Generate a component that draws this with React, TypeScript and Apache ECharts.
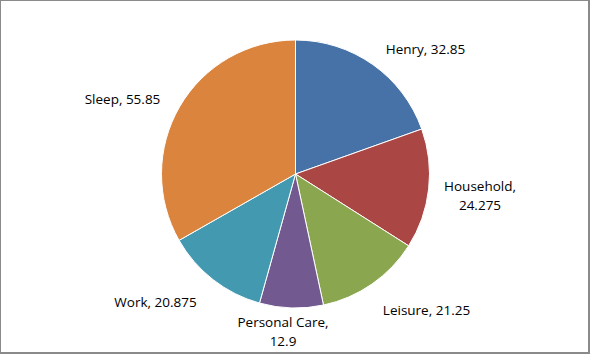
import React, { useEffect, useRef } from "react";
import * as echarts from "echarts";

const categories = ["Henry", "Household", "Leisure", "Personal Care", "Work", "Sleep"];
const values = [32.85, 24.275, 21.25, 12.9, 20.875, 55.85];
const colors = ["#4672A8", "#AA4744", "#8AA64F", "#725A90", "#4299B0", "#DB843E"];
const twoLine = ["Household", "Personal Care"];
const labelPos: [number, number][] = [
  [425.5, 49],
  [480, 195.5],
  [426.5, 309.5],
  [283, 331.5],
  [155.5, 302],
  [122.5, 99],
];

export default function App() {
  const ref = useRef<HTMLDivElement>(null);
  useEffect(() => {
    if (!ref.current) return;
    const chart = echarts.init(ref.current, null, { renderer: "svg" });
    chart.setOption({
      animation: false,
      backgroundColor: "#ffffff",
      series: [
        {
          type: "pie",
          center: [295.5, 174],
          radius: 134,
          startAngle: 90,
          clockwise: true,
          data: categories.map((c, i) => ({
            name: c,
            value: values[i],
            itemStyle: { color: colors[i] },
          })),
          itemStyle: { borderColor: "#ffffff", borderWidth: 1 },
          label: {
            show: true,
            position: "outside",
            color: "#000000",
            fontFamily: "Open Sans",
            fontSize: 13.5,
            lineHeight: 19,
            align: "center",
            formatter: (p: any) =>
              twoLine.includes(p.name) ? `${p.name},\n${p.value}` : `${p.name}, ${p.value}`,
          },
          labelLine: { show: false },
          labelLayout: (p: any) => ({
            x: labelPos[p.dataIndex][0],
            y: labelPos[p.dataIndex][1],
            align: "center",
            verticalAlign: "middle",
          }),
          emphasis: { disabled: true },
        },
      ],
    });
    return () => chart.dispose();
  }, []);
  return (
    <div
      style={{
        position: "fixed",
        left: 0,
        top: 0,
        width: 590,
        height: 354,
        boxSizing: "border-box",
        borderStyle: "solid",
        borderColor: "#8a8a8a",
        borderWidth: "1px 2px 2px 1px",
        background: "#fff",
        overflow: "hidden",
      }}
    >
      <div ref={ref} style={{ position: "absolute", left: -1, top: -1, width: 590, height: 354 }} />
    </div>
  );
}
